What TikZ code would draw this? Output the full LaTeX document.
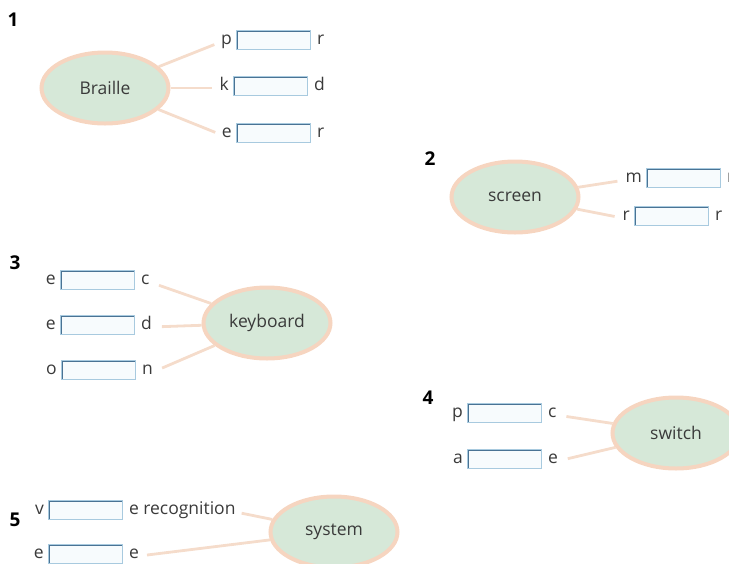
\documentclass[tikz,border=0pt]{standalone}
\usepackage{fontspec}
\setmainfont{Open Sans}
\usetikzlibrary{shapes.geometric,backgrounds}
\definecolor{ellfill}{HTML}{D6E8D8}
\definecolor{ellline}{HTML}{F6D5C0}
\definecolor{conncol}{HTML}{F5DCCB}
\definecolor{boxdark}{HTML}{4A7394}
\definecolor{boxlight}{HTML}{A8CADF}
\definecolor{boxfill}{HTML}{F7FBFD}
\definecolor{txt}{HTML}{3A3A3A}
\newcommand{\gaprow}[5]{%
  \node[blank, anchor=west] (#1b) at (#2,#3) {};
  \node[lett, anchor=mid east] (#1l) at ([xshift=-4pt,yshift=-2pt]#1b.west) {#4};
  \node[lett, anchor=mid west] (#1r) at ([xshift=6pt,yshift=-2pt]#1b.east) {#5};
}
\begin{document}
\begin{tikzpicture}[x=1pt,y=-1pt,
  bubble/.style={ellipse, draw=ellline, line width=4pt, fill=ellfill,
    minimum width=127pt, minimum height=71pt, inner sep=0pt,
    font=\fontsize{17.5}{20}\selectfont, text=txt},
  lett/.style={inner sep=0pt, font=\fontsize{17.5}{20}\selectfont, text=txt},
  blank/.style={rectangle, minimum width=74pt, minimum height=19pt, inner sep=0pt,
    draw=boxlight, line width=0.8pt, fill=boxfill,
    path picture={\draw[boxdark, line width=3pt]
      (path picture bounding box.south west) -- (path picture bounding box.north west)
      -- (path picture bounding box.north east);}},
  conn/.style={draw=conncol, line width=2.8pt},
  num/.style={inner sep=0pt, font=\bfseries\fontsize{19}{20}\selectfont, text=black}]
\useasboundingbox (0,0) rectangle (729,563);
\clip (0,0) rectangle (729,563);

% numbers
\node[num] (n1) at (13,20) {1};
\node[num] (n2) at (430,159) {2};
\node[num] (n3) at (15,263) {3};
\node[num] (n4) at (428,398) {4};
\node[num] (n5) at (15,520) {5};

% bubbles
\node[bubble] (braille) at (105,88) {Braille};
\node[bubble] (screen) at (515,197) {screen};
\node[bubble] (keyboard) at (267,323) {keyboard};
\node[bubble] (switch) at (676,433) {switch};
\node[bubble] (system) at (334,532) {system};

% rows
\gaprow{b1}{236}{40}{p}{r}
\gaprow{b2}{233}{86}{k}{d}
\gaprow{b3}{236}{133}{e}{r}
\gaprow{s1}{646}{178}{m}{r}
\gaprow{s2}{634}{216}{r}{r}
\gaprow{k1}{60}{280}{e}{c}
\gaprow{k2}{60}{325}{e}{d}
\gaprow{k3}{61}{370}{o}{n}
\gaprow{w1}{467}{413}{p}{c}
\gaprow{w2}{467}{459}{a}{e}
\gaprow{y1}{48}{510}{v}{e recognition}
\gaprow{y2}{48}{554}{e}{e}

% connectors
\begin{scope}[on background layer]
\draw[conn, shorten >=7pt] (braille) -- (b1l.mid west);
\draw[conn, shorten >=7pt] (braille) -- (b2l.mid west);
\draw[conn, shorten >=7pt] (braille) -- (b3l.mid west);
\draw[conn, shorten >=8pt] (screen) -- (s1l.mid west);
\draw[conn, shorten >=8pt] (screen) -- (s2l.mid west);
\draw[conn, shorten <=10pt] (k1r.mid east) -- (keyboard);
\draw[conn, shorten <=10pt] (k2r.mid east) -- (keyboard);
\draw[conn, shorten <=10pt] (k3r.mid east) -- (keyboard);
\draw[conn, shorten <=10pt] (w1r.mid east) -- (switch);
\draw[conn, shorten <=10pt] (w2r.mid east) -- (switch);
\draw[conn, shorten <=6pt] (y1r.mid east) -- (system);
\draw[conn, shorten <=8pt] (y2r.mid east) -- (system);
\end{scope}
\end{tikzpicture}
\end{document}
